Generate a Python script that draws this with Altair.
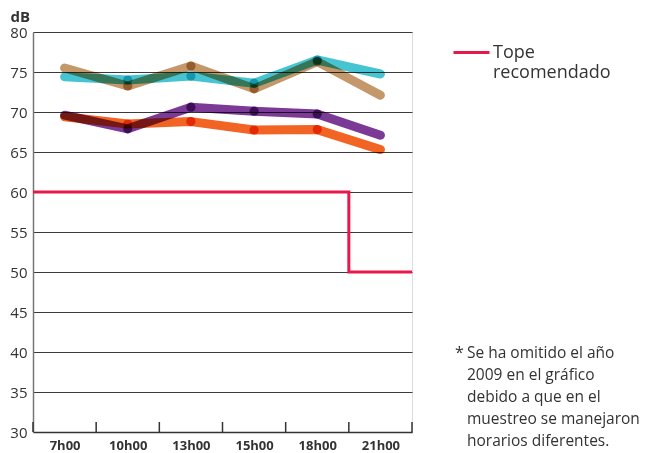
import altair as alt
import pandas as pd

# ---- data ----
horas = ["7h00", "10h00", "13h00", "15h00", "18h00", "21h00"]
series = ["Serie A", "Serie B", "Serie C", "Serie D"]
colores = ["#c4986a", "#46c4d2", "#7b3a96", "#f26423"]
serie_a = [75.5, 73.25, 75.75, 72.9, 76.3, 72.1]
serie_b = [74.4, 74.0, 74.5, 73.6, 76.5, 74.75]
serie_c = [69.6, 67.9, 70.6, 70.1, 69.75, 67.1]
serie_d = [69.4, 68.5, 68.8, 67.75, 67.8, 65.3]
tope = [60, 60, 60, 60, 60, 50]
tope_nombre = "Tope recomendado"
nota = ["Se ha omitido el año", "2009 en el gráfico", "debido a que en el",
        "muestreo se manejaron", "horarios diferentes."]

FONT = "Open Sans"
TXT = "#333333"

rows = []
for s, vals in zip(series, [serie_a, serie_b, serie_c, serie_d]):
    for i, (h, v) in enumerate(zip(horas, vals)):
        rows.append({"serie": s, "hora": h, "idx": i, "pos": i + 0.5, "db": v})
df = pd.DataFrame(rows)

tope_rows = [{"serie": tope_nombre, "pos": i, "db": v, "o": i} for i, v in enumerate(tope)]
tope_rows.append({"serie": tope_nombre, "pos": len(tope), "db": tope[-1], "o": len(tope)})
df_tope = pd.DataFrame(tope_rows)

df_ticks = pd.DataFrame({"pos": list(range(len(horas) + 1))})

label_expr = "[" + ",".join("'%s'" % h for h in horas) + "][floor(datum.value)]"

xscale = alt.Scale(domain=[0, len(horas)], nice=False, zero=False)
yscale = alt.Scale(domain=[30, 80], nice=False, zero=False)

x_enc = alt.X("pos:Q", scale=xscale, axis=alt.Axis(
    values=[i + 0.5 for i in range(len(horas))], labelExpr=label_expr, title=None,
    grid=False, ticks=False, domainColor=TXT, domainWidth=1.5,
    labelFont=FONT, labelFontSize=13, labelFontWeight="bold", labelColor=TXT,
    labelPadding=7))
y_enc = alt.Y("db:Q", scale=yscale, axis=alt.Axis(
    values=list(range(30, 81, 5)), title="dB", titleAngle=0, titleAlign="left",
    titleBaseline="alphabetic", titleX=-23, titleY=-11, titleFont=FONT,
    titleFontSize=15, titleFontWeight="bold", titleColor=TXT,
    grid=True, gridColor="#3a3a3a", gridWidth=1, ticks=False, labelOverlap=False,
    domainColor="#777777", domainWidth=1.5,
    labelFont=FONT, labelFontSize=15, labelColor=TXT, labelPadding=6))

color_enc = alt.Color("serie:N", scale=alt.Scale(domain=series, range=colores), legend=None)

tope_line = alt.Chart(df_tope).mark_line(strokeWidth=3, interpolate="step-after").encode(
    x=x_enc, y=y_enc, order="o:Q",
    stroke=alt.Stroke("serie:N", scale=alt.Scale(domain=[tope_nombre], range=["#e8194a"]),
                      legend=alt.Legend(title=None, orient="none", legendX=419, legendY=1,
                                        symbolType="stroke", symbolSize=1296,
                                        symbolStrokeWidth=3, labelFont=FONT,
                                        labelFontSize=18, labelColor=TXT, labelOffset=2,
                                        labelExpr="['Tope', 'recomendado']",
                                        labelLimit=300)))

base = alt.Chart(df)
lineas = base.mark_line(strokeWidth=9, strokeCap="round", strokeJoin="round",
                        blend="multiply").encode(x=x_enc, y=y_enc, color=color_enc,
                                                 order="idx:Q")
puntos = base.transform_filter("datum.idx >= 1 && datum.idx <= 4").mark_circle(
    size=85, opacity=1, blend="multiply").encode(x=x_enc, y=y_enc, color=color_enc)

ticks = alt.Chart(df_ticks).mark_rule(color=TXT, strokeWidth=1.5).encode(
    x=alt.X("pos:Q", scale=xscale), y=alt.value(400), y2=alt.value(390))

one = pd.DataFrame({"a": [0]})
asterisco = alt.Chart(one).mark_text(text="*", font=FONT, fontSize=16, color=TXT,
                                     align="left", baseline="alphabetic").encode(
    x=alt.value(422), y=alt.value(326))
nota_txt = alt.Chart(one).mark_text(text=nota, font=FONT, fontSize=15.5, color=TXT,
                                    align="left", baseline="alphabetic",
                                    lineHeight=22).encode(
    x=alt.value(434), y=alt.value(326))

chart = alt.layer(tope_line, lineas, puntos, ticks, asterisco, nota_txt).resolve_scale(
    color="independent", stroke="independent"
).properties(
    width=379, height=400,
    padding={"left": 25, "top": 24, "right": 229, "bottom": 21},
    autosize=alt.AutoSizeParams(type="none"),
).configure_view(stroke=None).configure(background="white")

chart.save("out.html", embed_options={"renderer": "svg", "actions": False})
